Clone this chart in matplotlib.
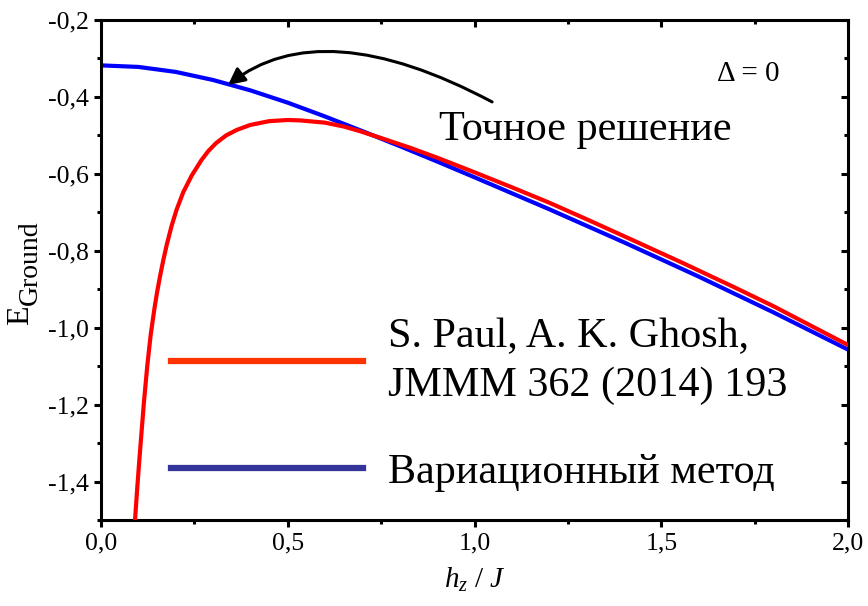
import matplotlib
matplotlib.use("Agg")
import matplotlib.pyplot as plt
from matplotlib.lines import Line2D
from matplotlib.ticker import MultipleLocator, FuncFormatter

plt.rcParams['font.family'] = ['Liberation Serif', 'DejaVu Serif']
plt.rcParams['mathtext.fontset'] = 'custom'
plt.rcParams['mathtext.rm'] = 'Liberation Serif'
plt.rcParams['mathtext.it'] = 'Liberation Serif:italic'

# exact solution (Paul & Ghosh)
hz_exact = [0.091, 0.097, 0.1026, 0.109, 0.115, 0.124, 0.133, 0.143, 0.150, 0.158,
            0.167, 0.176, 0.189, 0.202, 0.220, 0.243, 0.269, 0.287, 0.308, 0.335,
            0.363, 0.399, 0.450, 0.500, 0.533, 0.600, 0.650, 0.693, 0.750, 0.827,
            0.900, 1.000, 1.100, 1.200, 1.300, 1.400, 1.558, 1.700, 1.800, 2.000]
e_exact = [-1.500, -1.416, -1.343, -1.265, -1.192, -1.097, -1.018, -0.950, -0.908, -0.866,
           -0.823, -0.784, -0.735, -0.694, -0.648, -0.604, -0.564, -0.541, -0.520, -0.500,
           -0.486, -0.473, -0.463, -0.460, -0.461, -0.467, -0.477, -0.489, -0.507, -0.532,
           -0.558, -0.596, -0.635, -0.675, -0.718, -0.762, -0.832, -0.897, -0.944, -1.045]

# variational method
hz_var = [0.0, 0.1, 0.2, 0.3, 0.4, 0.5, 0.6, 0.7, 0.8, 0.9, 1.0,
          1.2, 1.4, 1.6, 1.8, 2.0]
e_var = [-0.318, -0.322, -0.335, -0.356, -0.383, -0.415, -0.451, -0.489, -0.528, -0.568,
         -0.609, -0.692, -0.778, -0.867, -0.960, -1.057]

fig = plt.figure(figsize=(8.68, 6.06), dpi=100)
ax = fig.add_axes([0.1164, 0.1419, 0.8606, 0.8251])

ax.plot(hz_exact, e_exact, color='#ff0000', lw=3.0, zorder=3)
ax.plot(hz_var, e_var, color='#0000ff', lw=3.0, zorder=2)

ax.set_xlim(0, 2.0)
ax.set_ylim(-1.5, -0.2)
ax.xaxis.set_major_locator(MultipleLocator(0.5))
ax.xaxis.set_minor_locator(MultipleLocator(0.25))
ax.yaxis.set_major_locator(MultipleLocator(0.2))
ax.yaxis.set_minor_locator(MultipleLocator(0.1))
comma = FuncFormatter(lambda v, p: ('%.1f' % v).replace('.', ','))
ax.xaxis.set_major_formatter(comma)
ax.yaxis.set_major_formatter(comma)

for s in ax.spines.values():
    s.set_linewidth(2.2)
ax.tick_params(which='major', direction='out', length=5, width=2.2, labelsize=18.5, pad=4)
ax.tick_params(which='minor', direction='out', length=3, width=2.2)

# inward ticks on top and right
top = ax.secondary_xaxis('top')
top.xaxis.set_major_locator(MultipleLocator(0.5))
top.xaxis.set_minor_locator(MultipleLocator(0.25))
top.tick_params(which='major', direction='in', length=5, width=2.2, labeltop=False)
top.tick_params(which='minor', direction='in', length=3, width=2.2)
right = ax.secondary_yaxis('right')
right.yaxis.set_major_locator(MultipleLocator(0.2))
right.yaxis.set_minor_locator(MultipleLocator(0.1))
right.tick_params(which='major', direction='in', length=5, width=2.2, labelright=False)
right.tick_params(which='minor', direction='in', length=3, width=2.2)

ax.set_xlabel(r'$h_z$ / $J$', fontsize=21, labelpad=8)

# y label: E with a full-size "Ground" subscript
fig.text(0.0235, 0.480, 'E', rotation=90, fontsize=23, ha='center', va='center')
fig.text(0.0350, 0.567, 'Ground', rotation=90, fontsize=20, ha='center', va='center')

ax.text(0.8246, 0.878, 'Δ = 0', transform=ax.transAxes, fontsize=21,
        va='baseline', ha='left')

ax.text(0.9036, -0.485, 'Точное решение', fontsize=30.4, ha='left', va='center')
ax.annotate('', xy=(0.34, -0.369), xytext=(1.047, -0.413),
            arrowprops=dict(arrowstyle='-|>', color='black', lw=2.2,
                            mutation_scale=25, shrinkA=0, shrinkB=0,
                            connectionstyle='angle3,angleA=152,angleB=38'))

handles = [Line2D([], [], color='#ff3300', lw=4.5),
           Line2D([], [], color='#333399', lw=4.5)]
labels = ['S. Paul, A. K. Ghosh,\nJMMM 362 (2014) 193', 'Вариационный метод']
leg = ax.legend(handles, labels, loc='lower left', bbox_to_anchor=(0.094, 0.056),
                frameon=False, fontsize=30.3, handlelength=4.55, handletextpad=0.6,
                labelspacing=1.15, borderpad=0, borderaxespad=0)
for t in leg.get_texts():
    t.set_linespacing(1.35)

fig.savefig('out.png', dpi=100)
